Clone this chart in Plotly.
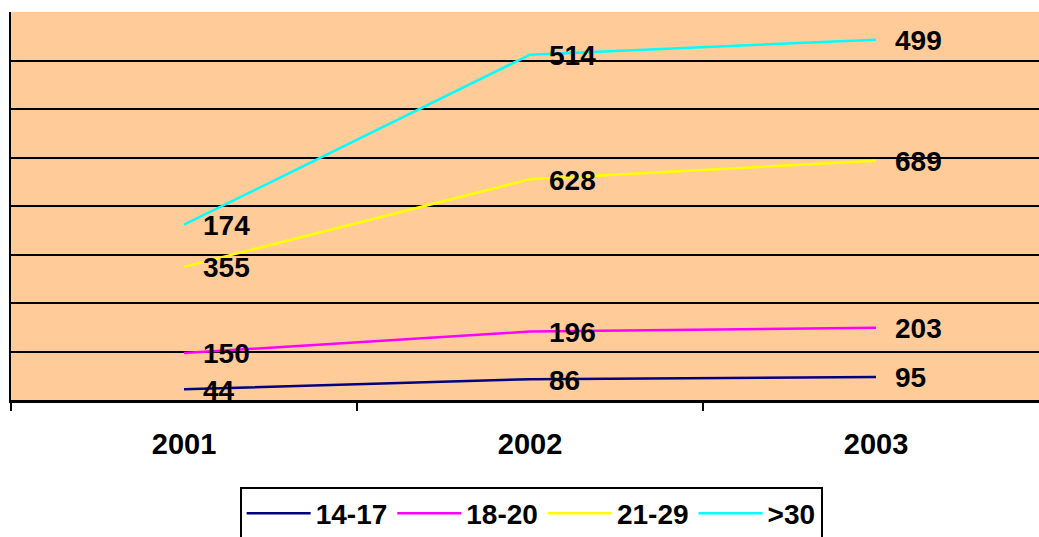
import numpy as np
import plotly.graph_objects as go

years = ["2001", "2002", "2003"]
series_names = ["14-17", "18-20", "21-29", ">30"]
v_14_17 = [44, 86, 95]
v_18_20 = [150, 196, 203]
v_21_29 = [355, 628, 689]
v_30 = [174, 514, 499]
colors = ["#000080", "#FF00FF", "#FFFF00", "#00FFFF"]

values = [v_14_17, v_18_20, v_21_29, v_30]
xpos = list(range(len(years)))
cum = np.cumsum(np.array(values), axis=0)

FONT = "Liberation Sans, Arial, sans-serif"

fig = go.Figure()
for name, vals, col in zip(series_names, values, colors):
    fig.add_trace(go.Scatter(
        x=xpos, y=vals, name=name, mode="lines", stackgroup="one", fill="none",
        line=dict(color=col, width=2.5),
    ))

annotations = []
for i, vals in enumerate(values):
    for j, v in enumerate(vals):
        annotations.append(dict(
            x=xpos[j], y=float(cum[i, j]), xref="x", yref="y",
            text=str(v), showarrow=False, xanchor="left", yanchor="middle",
            xshift=17, yshift=-1,
            font=dict(size=28, color="black", family=FONT, weight="bold"),
        ))

fig.update_layout(
    width=1039, height=537,
    margin=dict(l=11, r=0, t=12, b=137, autoexpand=False),
    paper_bgcolor="white", plot_bgcolor="#FFCC99",
    showlegend=True,
    legend=dict(
        orientation="h", x=0.506, xanchor="center", y=-0.223, yanchor="top",
        bordercolor="black", borderwidth=2, bgcolor="white",
        font=dict(size=28, color="black", family=FONT, weight="bold"),
        itemwidth=64, traceorder="normal", tracegroupgap=0,
    ),
    annotations=annotations,
)
fig.update_xaxes(
    range=[-0.5, 2.471], tickmode="array", tickvals=xpos,
    ticktext=years, ticks="",
    tickfont=dict(size=29, color="black", family=FONT, weight="bold"),
    ticklabelstandoff=16,
    showgrid=False, zeroline=False, showline=True, linecolor="black", linewidth=3,
    minor=dict(tickmode="array", tickvals=[-0.5, 0.5, 1.5], ticks="outside",
               ticklen=8, tickwidth=2, tickcolor="black", showgrid=False),
)
fig.update_yaxes(
    range=[0, 1600], dtick=200, showticklabels=False, ticks="",
    showgrid=True, gridcolor="black", gridwidth=2, zeroline=False,
    showline=True, linecolor="black", linewidth=2,
)

fig.write_html("out.html")
